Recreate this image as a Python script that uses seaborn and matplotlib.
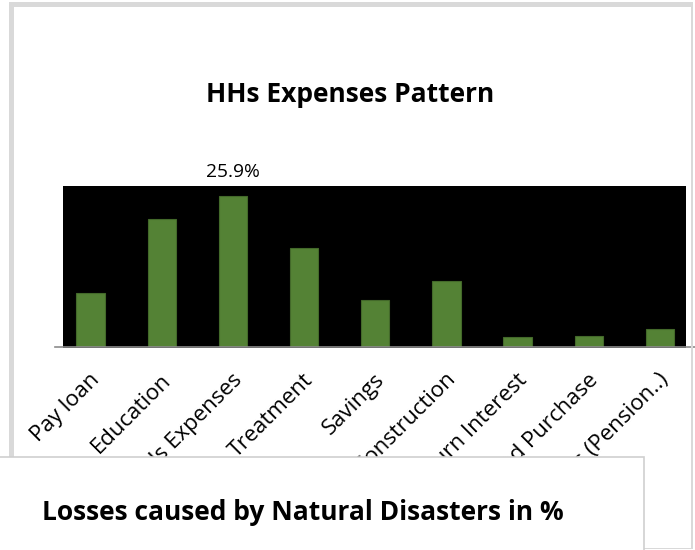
import matplotlib
matplotlib.use("Agg")
import matplotlib.pyplot as plt
from matplotlib.patches import Rectangle
import matplotlib.transforms as mtrans
import seaborn as sns
import pandas as pd

categories = ["Pay loan", "Education", "HHs Expenses", "Treatment", "Savings",
              "House Construction", "Loan Return Interest", "Land Purchase", "Others (Pension..)"]
values = [9.3, 21.9, 25.9, 16.9, 8.1, 11.4, 1.7, 1.9, 3.1]
value_labels = ["", "", "25.9%", "", "", "", "", "", ""]
title = "HHs Expenses Pattern"
second_title = "Losses caused by Natural Disasters in %"

sns.set_theme(style="white")
plt.rcParams["font.family"] = ["Open Sans", "DejaVu Sans"]

W, H = 695, 550
fig = plt.figure(figsize=(W / 100, H / 100), dpi=100)
fig.patch.set_facecolor("white")

def fx(px):
    return px / W

def fy(py):
    return 1 - py / H

ax = fig.add_axes([fx(55), fy(347), fx(640.5), (347 - 186) / H])
ax.set_facecolor("none")
ax.set_zorder(1)

df = pd.DataFrame({"cat": categories, "val": values})
sns.barplot(data=df, x="cat", y="val", color="#548235", saturation=1, width=0.4,
            edgecolor="#43692a", linewidth=0.8, ax=ax)
ax.set_xlim(-0.5, 8.5)
ax.set_ylim(0, 27.6)
ax.set_xlabel("")
ax.set_ylabel("")
ax.set_yticks([])
for s in ["top", "right", "left"]:
    ax.spines[s].set_visible(False)
ax.spines["bottom"].set_color("#8c8c8c")
ax.spines["bottom"].set_linewidth(1.2)
ax.tick_params(axis="x", length=0, pad=0)
ax.set_xticks(range(len(categories)))
ax.set_xticklabels(categories, rotation=45, ha="right", va="center",
                   rotation_mode="anchor", fontsize=16, color="black")
offset = mtrans.ScaledTranslation(6 / 100, -30 / 100, fig.dpi_scale_trans)
for lab in ax.get_xticklabels():
    lab.set_transform(lab.get_transform() + offset)

ax.bar_label(ax.containers[0], labels=value_labels, padding=11, fontsize=13.8, color="black")

fig.add_artist(Rectangle((fx(63), fy(348)), fx(686 - 63), (348 - 186) / H,
                         transform=fig.transFigure, facecolor="black", edgecolor="none", zorder=0))

fig.text(fx(350), fy(94), title, ha="center", va="center", fontsize=19,
         fontweight="bold", color="black", zorder=2)

frame_c = "#d9d9d9"
fig.add_artist(Rectangle((fx(9), 0), fx(4.5), 1 - 2 / H, transform=fig.transFigure,
                         facecolor=frame_c, edgecolor="none", zorder=3))
fig.add_artist(Rectangle((fx(9), fy(7)), fx(683), 5 / H, transform=fig.transFigure,
                         facecolor=frame_c, edgecolor="none", zorder=3))
fig.add_artist(Rectangle((fx(691), fy(548)), fx(1.5), (548 - 2) / H, transform=fig.transFigure,
                         facecolor=frame_c, edgecolor="none", zorder=3))
fig.add_artist(Rectangle((fx(644), fy(549)), fx(49), 1.5 / H, transform=fig.transFigure,
                         facecolor=frame_c, edgecolor="none", zorder=3))

fig.add_artist(Rectangle((-0.02, -0.02), fx(644) + 0.02, (550 - 457) / H + 0.02,
                         transform=fig.transFigure, facecolor="white", edgecolor="#cfcfcf",
                         linewidth=1.2, zorder=5))
fig.text(fx(303), fy(512), second_title, ha="center", va="center", fontsize=19,
         fontweight="bold", color="black", zorder=6)

fig.savefig("out.png", dpi=100, facecolor="white")
